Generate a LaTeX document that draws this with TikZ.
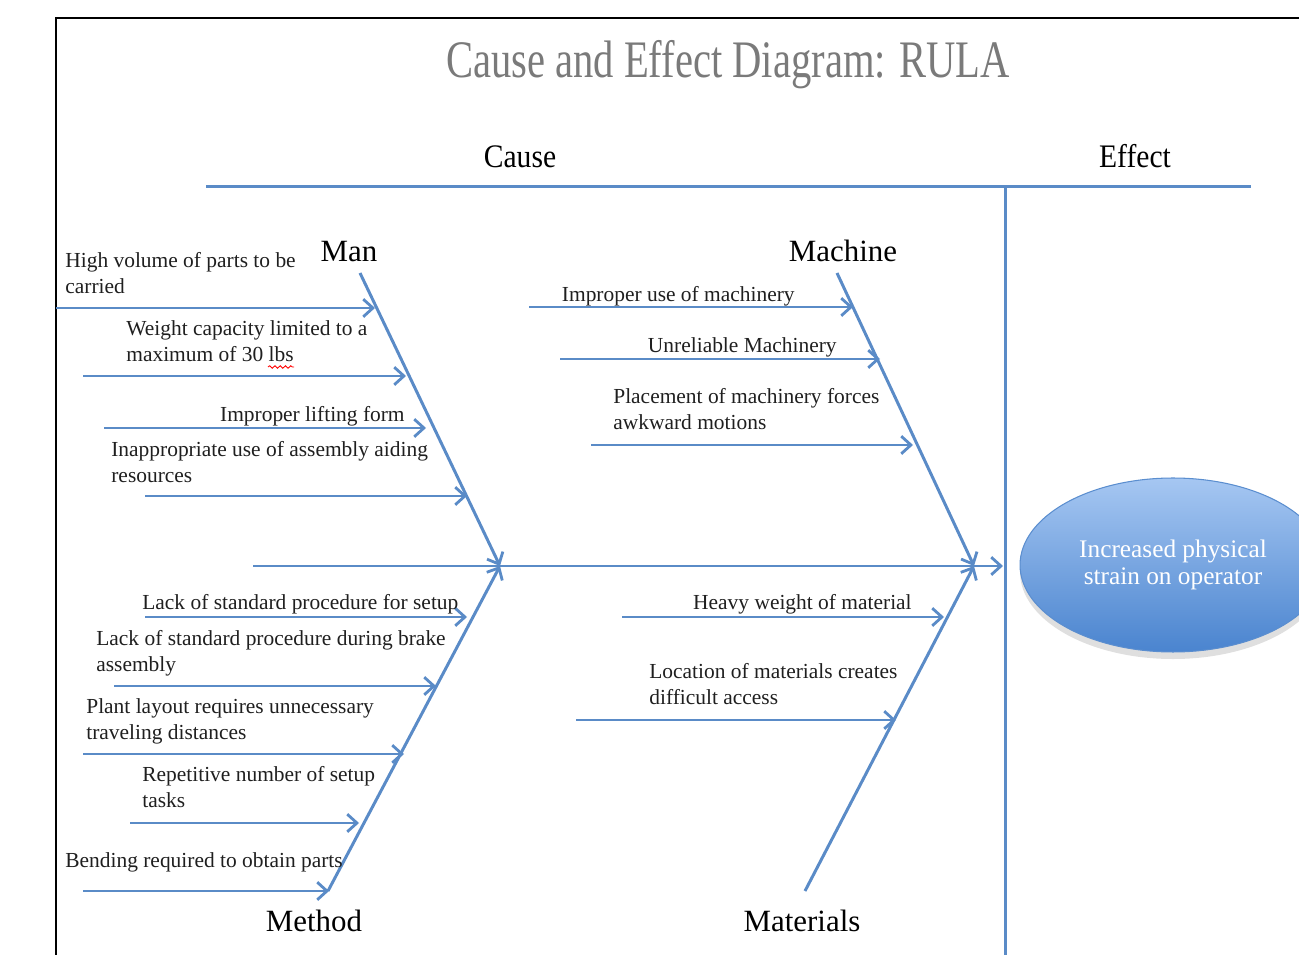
\documentclass[tikz,border=0pt]{standalone}
\usepackage{fontspec}
\setmainfont{Liberation Serif}
\newfontfamily\titlefont[FakeStretch=0.77]{Liberation Serif}
\newfontfamily\headfont[FakeStretch=0.9]{Liberation Serif}
\usetikzlibrary{arrows.meta,shapes.geometric,shadows,decorations.pathmorphing}
\definecolor{bonec}{HTML}{5A8BC7}
\definecolor{titlec}{HTML}{7A7A7A}
\definecolor{elltop}{HTML}{A6C7F2}
\definecolor{ellbot}{HTML}{4A84CF}
\definecolor{ellborder}{HTML}{5B8ECF}
\begin{document}
\begin{tikzpicture}[x=0.02cm,y=-0.02cm,
  boneline/.style={draw=bonec, line width=1.7pt},
  branch/.style={boneline, -{Straight Barb[length=5.5pt,width=10pt,line width=1.6pt]}},
  lbl/.style={anchor=base west, inner sep=0pt, align=left, text=black!88,
    font=\fontsize{12.2}{15.3}\selectfont},
  rlbl/.style={anchor=base east, inner sep=0pt, align=left, text=black!88,
    font=\fontsize{12.2}{15.3}\selectfont},
  cat/.style={anchor=base, inner sep=0pt, text=black, font=\fontsize{17.6}{20}\selectfont},
  head/.style={anchor=base, inner sep=0pt, text=black, font=\headfont\fontsize{18.7}{21}\selectfont}]
\useasboundingbox (0,0) rectangle (1299,955);
\clip (0,0) rectangle (1299,955);

% frame
\coordinate (fbl) at (56,960);
\coordinate (ftl) at (56,18);
\coordinate (ftr) at (1305,18);
\draw[black, line width=1.2pt] (fbl) -- (ftl) -- (ftr);

% title and headers
\node[anchor=base, inner sep=0pt, text=titlec, font=\titlefont\fontsize{30}{32}\selectfont] (title) at (728,78) {Cause and Effect Diagram: RULA};
\node[head] (cause) at (520,168) {Cause};
\node[head] (effect) at (1135,168) {Effect};

% top bar and divider
\coordinate (barL) at (206,187);
\coordinate (barR) at (1251,187);
\coordinate (divT) at (1005,187);
\coordinate (divB) at (1005,960);
\draw[boneline] (barL) -- (barR);
\draw[boneline] (divT) -- (divB);

% spine
\coordinate (spS) at (253,566);
\coordinate (spE) at (1003,566);
\draw[branch] (spS) -- (spE);

% bones
\coordinate (manT) at (360,273);
\coordinate (manE) at (500,566);
\coordinate (metB) at (328,891);
\coordinate (macT) at (837,273);
\coordinate (macE) at (974,566);
\coordinate (matB) at (805,891);
\draw[branch] (manT) -- (manE);
\draw[branch] (metB) -- (manE);
\draw[branch] (macT) -- (macE);
\draw[branch] (matB) -- (macE);

% category labels
\node[cat] (man) at (349,262) {Man};
\node[cat] (machine) at (843,262) {Machine};
\node[cat] (method) at (314,931) {Method};
\node[cat] (materials) at (802,931) {Materials};

% Man branches
\coordinate (m1s) at (56,308);  \coordinate (m1e) at (375,308);
\coordinate (m2s) at (83,376);  \coordinate (m2e) at (406,376);
\coordinate (m3s) at (104,428); \coordinate (m3e) at (426,428);
\coordinate (m4s) at (145,496); \coordinate (m4e) at (467,496);
\draw[branch] (m1s) -- (m1e);
\draw[branch] (m2s) -- (m2e);
\draw[branch] (m3s) -- (m3e);
\draw[branch] (m4s) -- (m4e);
\node[lbl] (hv) at (65,294) {High volume of parts to be\\carried};
\node[lbl] (wc) at (126,362) {Weight capacity limited to a\\maximum of 30 lbs};
\node[rlbl] (il) at (405,422) {Improper lifting form};
\node[lbl] (ia) at (111,483) {Inappropriate use of assembly aiding\\resources};
\coordinate (sqL) at (268,367);
\coordinate (sqR) at (294,367);
\draw[red, line width=0.5pt, decorate, decoration={snake, amplitude=0.7pt, segment length=3pt}] (sqL) -- (sqR);

% Method branches
\coordinate (t1s) at (145,617); \coordinate (t1e) at (467,617);
\coordinate (t2s) at (114,686); \coordinate (t2e) at (436,686);
\coordinate (t3s) at (83,754);  \coordinate (t3e) at (404,754);
\coordinate (t4s) at (130,823); \coordinate (t4e) at (359,823);
\coordinate (t5s) at (83,891);  \coordinate (t5e) at (329,891);
\draw[branch] (t1s) -- (t1e);
\draw[branch] (t2s) -- (t2e);
\draw[branch] (t3s) -- (t3e);
\draw[branch] (t4s) -- (t4e);
\draw[branch] (t5s) -- (t5e);
\node[lbl] (ls) at (142,610) {Lack of standard procedure for setup};
\node[lbl] (lb) at (96,672) {Lack of standard procedure during brake\\assembly};
\node[lbl] (pl) at (86,740) {Plant layout requires unnecessary\\traveling distances};
\node[lbl] (rn) at (142,808) {Repetitive number of setup\\tasks};
\node[lbl] (br) at (65,868) {Bending required to obtain parts};

% Machine branches
\coordinate (c1s) at (529,307); \coordinate (c1e) at (853,307);
\coordinate (c2s) at (560,359); \coordinate (c2e) at (880,359);
\coordinate (c3s) at (591,445); \coordinate (c3e) at (913,445);
\draw[branch] (c1s) -- (c1e);
\draw[branch] (c2s) -- (c2e);
\draw[branch] (c3s) -- (c3e);
\node[rlbl] (iu) at (795,302) {Improper use of machinery};
\node[rlbl] (um) at (837,353) {Unreliable Machinery};
\node[lbl] (pm) at (613,430) {Placement of machinery forces\\awkward motions};

% Materials branches
\coordinate (a1s) at (622,617); \coordinate (a1e) at (944,617);
\coordinate (a2s) at (576,720); \coordinate (a2e) at (896,720);
\draw[branch] (a1s) -- (a1e);
\draw[branch] (a2s) -- (a2e);
\node[rlbl] (hw) at (912,610) {Heavy weight of material};
\node[lbl] (lm) at (649,705) {Location of materials creates\\difficult access};

% effect ellipse
\node[ellipse, draw=ellborder, line width=0.6pt, top color=elltop, bottom color=ellbot,
  minimum width=6.12cm, minimum height=3.48cm, inner sep=0pt,
  drop shadow={opacity=0.25, shadow xshift=0pt, shadow yshift=-4pt},
  text=white, align=center, font=\fontsize{14.4}{15}\selectfont] (eff) at (1173,565)
  {Increased physical\\strain on operator};
\end{tikzpicture}
\end{document}
